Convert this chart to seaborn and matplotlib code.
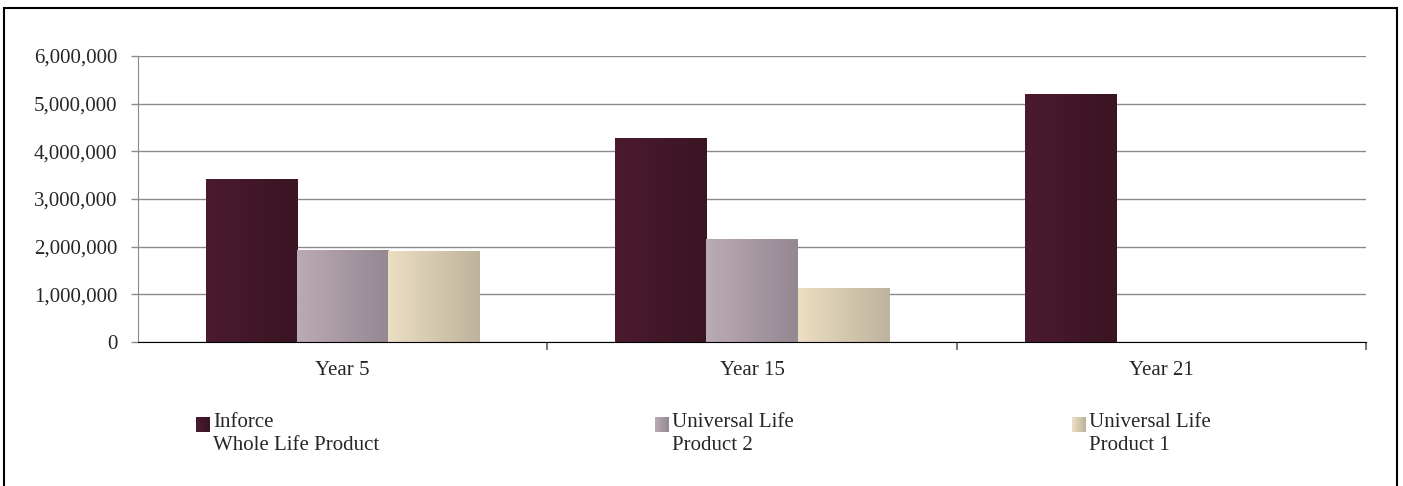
import numpy as np
import pandas as pd
import seaborn as sns
import matplotlib.pyplot as plt
from matplotlib.colors import LinearSegmentedColormap
from matplotlib.patches import Rectangle
from matplotlib.ticker import FuncFormatter

years = ['Year 5', 'Year 15', 'Year 21']
series = ['Inforce\nWhole Life Product', 'Universal Life\nProduct 2', 'Universal Life\nProduct 1']
inforce = [3400000, 4260000, 5200000]
ul_product2 = [1930000, 2160000, 0]
ul_product1 = [1890000, 1130000, 0]

# left -> right shade of each bar
shades = [('#4b1a2e', '#3a1524'), ('#baaab4', '#958892'), ('#ebdec2', '#beb39c')]

def gradientFill(ax, x0, x1, y0, y1, c0, c1):
    cmap = LinearSegmentedColormap.from_list('g', [c0, c1])
    grad = np.linspace(0, 1, 64).reshape(1, -1)
    ax.imshow(grad, cmap=cmap, aspect='auto', extent=(x0, x1, y0, y1),
              interpolation='bilinear', zorder=3)

sns.set_style('white')
plt.rcParams['font.family'] = ['Liberation Serif', 'DejaVu Serif']
fs = 15

df = pd.DataFrame({
    'year': years * 3,
    'value': inforce + ul_product2 + ul_product1,
    'series': [series[0]] * 3 + [series[1]] * 3 + [series[2]] * 3,
})

fig = plt.figure(figsize=(14.03, 4.86), dpi=100)
ax = fig.add_axes([138 / 1403, 1 - 342 / 486, (1366 - 138) / 1403, (342 - 56) / 486])

pal = {series[i]: shades[i][0] for i in range(3)}
sns.barplot(data=df, x='year', y='value', hue='series', hue_order=series,
            palette=pal, width=0.667, gap=0, saturation=1, legend=False, ax=ax)

# replace flat bars with a left-to-right gradient
for i, p in enumerate(list(ax.patches)):
    h = p.get_height()
    p.set_visible(False)
    if h <= 0:
        continue
    s = i // 3
    x0 = p.get_x()
    gradientFill(ax, x0, x0 + p.get_width(), 0, h, shades[s][0], shades[s][1])

ax.set_xlim(-0.5, 2.5)
ax.set_ylim(0, 6000000)
ax.set_yticks(np.arange(0, 6000001, 1000000))
ax.yaxis.set_major_formatter(FuncFormatter(lambda v, _: '{:,.0f}'.format(v)))
ax.yaxis.grid(True, color='#8c8c8c', linewidth=1.0)
ax.set_axisbelow(True)
ax.set_xlabel('')
ax.set_ylabel('')

for s in ['top', 'right']:
    ax.spines[s].set_visible(False)
ax.spines['left'].set_color('#8c8c8c')
ax.spines['bottom'].set_color('black')
ax.spines['bottom'].set_zorder(5)

ax.tick_params(axis='y', length=5, width=1, color='#8c8c8c', labelsize=fs, pad=10, left=True)
ax.tick_params(axis='x', which='major', length=0, labelsize=fs, pad=14)
ax.set_xticks([0.5, 1.5, 2.5], minor=True)
ax.tick_params(axis='x', which='minor', length=6, width=1.5, color='#7a7a7a', bottom=True)

# legend along the bottom
legend_x = [196, 655, 1072]
for i in range(3):
    lx = fig.add_axes([legend_x[i] / 1403, 1 - 432 / 486, 14 / 1403, 15 / 486])
    cmap = LinearSegmentedColormap.from_list('g', [shades[i][0], shades[i][1]])
    lx.imshow(np.linspace(0, 1, 16).reshape(1, -1), cmap=cmap, aspect='auto')
    lx.axis('off')
    fig.text((legend_x[i] + 17) / 1403, 1 - 413 / 486, series[i], fontsize=fs,
             va='top', ha='left', linespacing=1.32)

# frame round the whole chart
fig.patches.append(Rectangle((4 / 1403, -0.05), 1393 / 1403, 1.05 - 8 / 486,
                             transform=fig.transFigure, fill=False,
                             edgecolor='black', linewidth=1.5))

fig.savefig('out.png', dpi=100)
